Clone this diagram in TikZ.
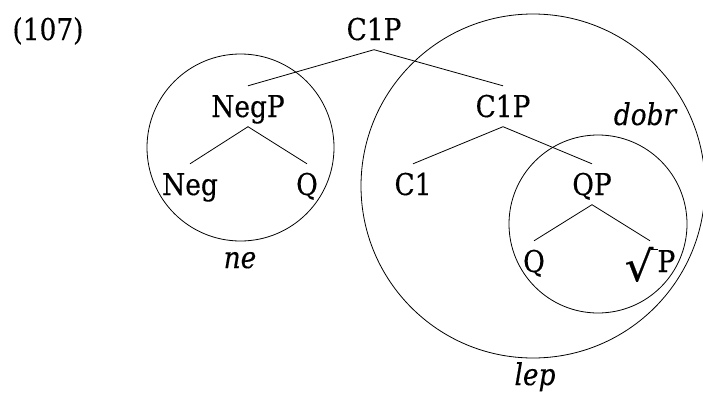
\documentclass[tikz,border=0pt]{standalone}
\usepackage{fontspec}
\usepackage{graphicx}
\setmainfont{DejaVu Serif}[FakeStretch=0.88, FakeBold=0.35]
\begin{document}
\begin{tikzpicture}[x=1pt,y=-1pt,
  every node/.style={font=\fontsize{30pt}{36pt}\selectfont},
  lab/.style={anchor=base, text height=21.5pt, text depth=0pt, inner xsep=0pt, inner ysep=9.5pt},
  tag/.style={anchor=base, inner sep=0pt, font=\fontsize{30pt}{36pt}\selectfont\itshape},
  ring/.style={circle, draw, line width=0.8pt, inner sep=0pt},
  edge/.style={line width=0.8pt}]
\useasboundingbox (0,0) rectangle (703,399);
% circles
\node[ring, minimum size=187pt] (cne) at (240.5,147.5) {};
\node[ring, minimum size=344pt] (clep) at (533,186) {};
\node[ring, minimum size=178pt] (cdobr) at (598,224) {};
% example number
\node[anchor=base, inner sep=0pt] (num) at (48,40) {(107)};
% tree nodes
\node[lab] (r) at (374,40) {C1P};
\node[lab] (negp) at (248,117) {NegP};
\node[lab] (c1p) at (503,117) {C1P};
\node[lab] (neg) at (190,195) {Neg};
\node[lab] (q1) at (307,195) {Q};
\node[lab] (c1) at (413,195) {C1};
\node[lab] (qp) at (592,195) {QP};
\node[lab] (q2) at (534,272) {Q};
\node[lab] (rp) at (650,272) {\raisebox{-0.3em}{\scalebox{1.7}[1.4]{√}}\kern-0.08em\rule[0.72em]{0.22em}{0.035em}P};
% edges
\draw[edge] (negp.north) -- (r.south) -- (c1p.north);
\draw[edge] (neg.north) -- (negp.south) -- (q1.north);
\draw[edge] (c1.north) -- (c1p.south) -- (qp.north);
\draw[edge] (q2.north) -- (qp.south) -- (rp.north);
% circle labels
\node[tag] (ne) at (240,268) {ne};
\node[tag] (dobr) at (645,125) {dobr};
\node[tag] (lep) at (535,385) {lep};
\end{tikzpicture}
\end{document}
